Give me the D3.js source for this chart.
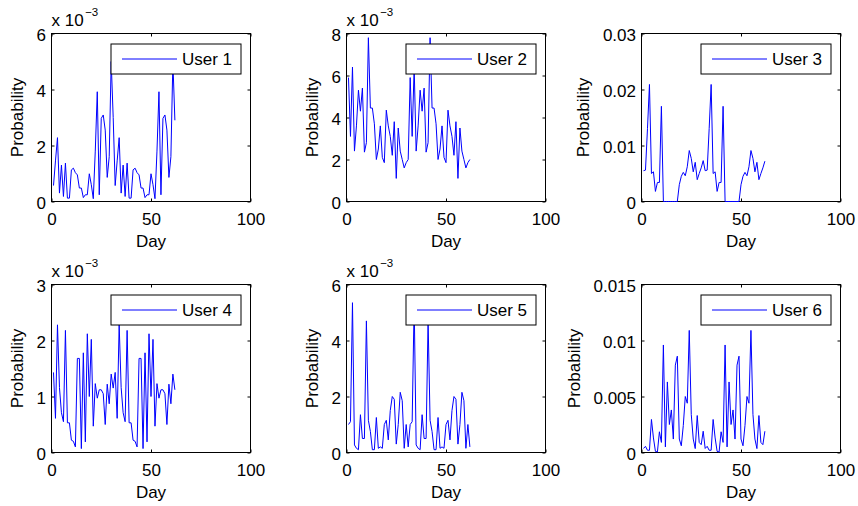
<!DOCTYPE html>
<html><head><meta charset="utf-8">
<script src="https://cdn.jsdelivr.net/npm/d3@7"></script>
<style>
body{margin:0;background:#fff}
svg{display:block}
text{font-family:"Liberation Sans",Arial,Helvetica,sans-serif;fill:#000}
</style>
</head><body>
<svg id="chart" width="858" height="506"></svg>
<script>
// Days 1..62 (category axis)
const days = d3.range(1, 63);
const users = ["User 1","User 2","User 3","User 4","User 5","User 6"];
// Series values, all in units of 1e-3
const user1 = [0.57,1.45,2.28,0.3,1.3,0.18,1.37,0.12,0.12,1.13,1.19,1.03,0.95,0.48,0.48,0.14,0.24,0.24,0.99,0.6,0.1,1.8,3.92,0.24,2.97,3.09,2.55,0.86,1.6,5.0,3.0,
               0.57,1.45,2.28,0.3,1.3,0.18,1.37,0.12,0.12,1.13,1.19,1.03,0.95,0.48,0.48,0.14,0.24,0.24,0.99,0.6,0.1,1.8,3.92,0.24,2.97,3.09,2.55,0.86,1.6,5.0,2.9];
const user2 = [5.9,3.1,6.4,2.4,3.6,5.3,4.3,5.4,2.35,2.8,7.8,4.45,4.45,3.7,2.0,2.5,3.6,2.1,1.85,4.35,3.6,3.1,2.2,3.8,1.1,3.5,2.4,2.0,1.6,1.85,2.0,
               5.9,3.1,6.4,2.4,3.6,5.3,4.3,5.4,2.35,2.8,7.8,4.45,4.45,3.7,2.0,2.5,3.6,2.1,1.85,4.35,3.6,3.1,2.2,3.8,1.1,3.5,2.4,2.0,1.6,1.85,2.0];
const user3 = [5.5,5.6,13,20.9,5.0,5.3,1.8,3.4,3.4,17.0,0,0,0,0,0,0,0,0,3.0,4.5,5.2,4.6,6.2,9.1,7.7,5.3,7.0,3.9,5.0,6.0,7.3,
               5.5,5.6,13,20.9,5.0,5.3,1.8,3.4,3.4,17.0,0,0,0,0,0,0,0,0,3.0,4.5,5.2,4.6,6.2,9.1,7.7,5.3,7.0,3.9,5.0,6.0,7.2];
const user4 = [1.43,0.61,2.28,1.16,0.71,0.55,2.18,0.53,0.53,0.22,0.2,0.1,1.68,1.68,0.07,1.78,0.19,2.12,1.0,2.02,0.47,1.23,0.97,1.12,1.12,1.05,0.5,1.22,0.87,1.4,1.15,
               1.43,0.61,2.28,1.16,0.71,0.55,2.18,0.53,0.53,0.22,0.2,0.1,1.68,1.68,0.07,1.78,0.19,2.12,1.0,2.02,0.47,1.23,0.97,1.12,1.12,1.05,0.5,1.22,0.87,1.4,1.12];
const user5 = [1.0,1.1,5.35,0.27,0.15,0.1,1.35,0.5,0.5,4.7,1.15,0.75,0.1,0.1,1.25,0.15,0.2,0.15,1.0,1.15,0.45,1.5,2.0,1.9,0.3,1.0,2.15,1.85,0.15,1.0,0.2,
               1.0,1.1,5.35,0.27,0.15,0.1,1.35,0.5,0.5,4.7,1.15,0.75,0.1,0.1,1.25,0.15,0.2,0.15,1.0,1.15,0.45,1.5,2.0,1.9,0.3,1.0,2.15,1.85,0.15,1.0,0.2];
const user6 = [0.36,0.55,0.2,0.2,2.95,1.3,0.1,0.05,1.85,0.9,9.6,0.5,6.3,2.5,3.8,1.2,7.8,8.6,1.2,0.6,2.4,5.0,4.4,10.9,3.4,1.2,0.35,3.3,0.9,0.7,1.9,
               0.36,0.55,0.2,0.2,2.95,1.3,0.1,0.05,1.85,0.9,9.6,0.5,6.3,2.5,3.8,1.2,7.8,8.6,1.2,0.6,2.4,5.0,4.4,10.9,3.4,1.2,0.35,3.3,0.9,0.7,1.9];
const series = [user1,user2,user3,user4,user5,user6];
// Axis limits and tick labels (units of 1e-3)
const yMax = [6,8,30,3,6,15];
const yTickValues = [[0,2,4,6],[0,2,4,6,8],[0,10,20,30],[0,1,2,3],[0,2,4,6],[0,5,10,15]];
const yTickLabels = [["0","2","4","6"],["0","2","4","6","8"],["0","0.01","0.02","0.03"],
                     ["0","1","2","3"],["0","2","4","6"],["0","0.005","0.01","0.015"]];
const showExponent = [true,true,false,true,true,false];
const xTickValues = [0,50,100];
const xTickLabels = ["0","50","100"];
const xLabel = "Day", yLabel = "Probability";

// Layout
const FS = 17;
const colLeft = [51.5, 346.5, 641.5];
const rowTop = [33.5, 284.5];
const W = 199, H = 168;

const svg = d3.select("#chart");

series.forEach((vals, i) => {
  const col = i % 3, row = Math.floor(i / 3);
  const g = svg.append("g").attr("transform", `translate(${colLeft[col]},${rowTop[row]})`);
  const x = d3.scaleLinear().domain([0,100]).range([0,W]);
  const y = d3.scaleLinear().domain([0,yMax[i]]).range([H,0]);

  // axes with inward ticks
  const tick = 3;
  const xb = g.append("g").attr("transform",`translate(0,${H})`)
    .call(d3.axisBottom(x).tickValues(xTickValues).tickFormat((d,k)=>xTickLabels[k])
      .tickSizeInner(-tick).tickSizeOuter(0).tickPadding(11.4));
  const xt = g.append("g")
    .call(d3.axisTop(x).tickValues(xTickValues).tickFormat("").tickSizeInner(-tick).tickSizeOuter(0));
  const yl = g.append("g")
    .call(d3.axisLeft(y).tickValues(yTickValues[i]).tickFormat((d,k)=>yTickLabels[i][k])
      .tickSizeInner(-tick).tickSizeOuter(0).tickPadding(5.5));
  const yr = g.append("g").attr("transform",`translate(${W},0)`)
    .call(d3.axisRight(y).tickValues(yTickValues[i]).tickFormat("").tickSizeInner(-tick).tickSizeOuter(0));
  [xb,xt,yl,yr].forEach(a => {
    a.select(".domain").remove();
    a.selectAll("line").attr("stroke","#000");
    a.selectAll("text").style("font-size",FS+"px").attr("fill","#000")
      .style("font-family",'"Liberation Sans",Arial,sans-serif');
  });
  yl.selectAll("text").attr("dy","0.42em");

  // box
  g.append("rect").attr("x",0).attr("y",0).attr("width",W).attr("height",H)
    .attr("fill","none").attr("stroke","#000").attr("stroke-width",1);

  // data line (drawn over the axes box)
  const line = d3.line().x((d,k) => x(days[k])).y(d => y(d));
  g.append("path").datum(vals).attr("d", line)
    .attr("fill","none").attr("stroke","#0000ff").attr("stroke-width",1)
    .attr("stroke-linejoin","round");

  // labels
  let maxw = 0;
  yl.selectAll("text").each(function(){ maxw = Math.max(maxw, this.getComputedTextLength()); });
  g.append("text").attr("transform",`translate(${-(5.5+maxw+13.5)},${H/2}) rotate(-90)`)
    .attr("text-anchor","middle").style("font-size",FS+"px").text(yLabel);
  g.append("text").attr("x",W/2).attr("y",H+45.5).attr("text-anchor","middle")
    .style("font-size",FS+"px").text(xLabel);

  // exponent
  if (showExponent[i]) {
    const t = g.append("text").attr("x",0).attr("y",-8).style("font-size",FS+"px").text("x 10");
    const tw = t.node().getComputedTextLength();
    g.append("text").attr("x",tw+1.5).attr("y",-17.5).style("font-size","11.5px").text("\u22123");
  }

  // legend
  const lx = W - 139.5, ly = 10.5;
  const lg = g.append("g").attr("transform",`translate(${lx},${ly})`);
  lg.append("rect").attr("width",130).attr("height",30).attr("fill","#fff")
    .attr("stroke","#000").attr("stroke-width",1);
  lg.append("line").attr("x1",11).attr("x2",66).attr("y1",15).attr("y2",15)
    .attr("stroke","#0000ff").attr("stroke-width",1);
  lg.append("text").attr("x",71).attr("y",21).style("font-size",FS+"px").text(users[i]);
});
</script>
</body></html>
